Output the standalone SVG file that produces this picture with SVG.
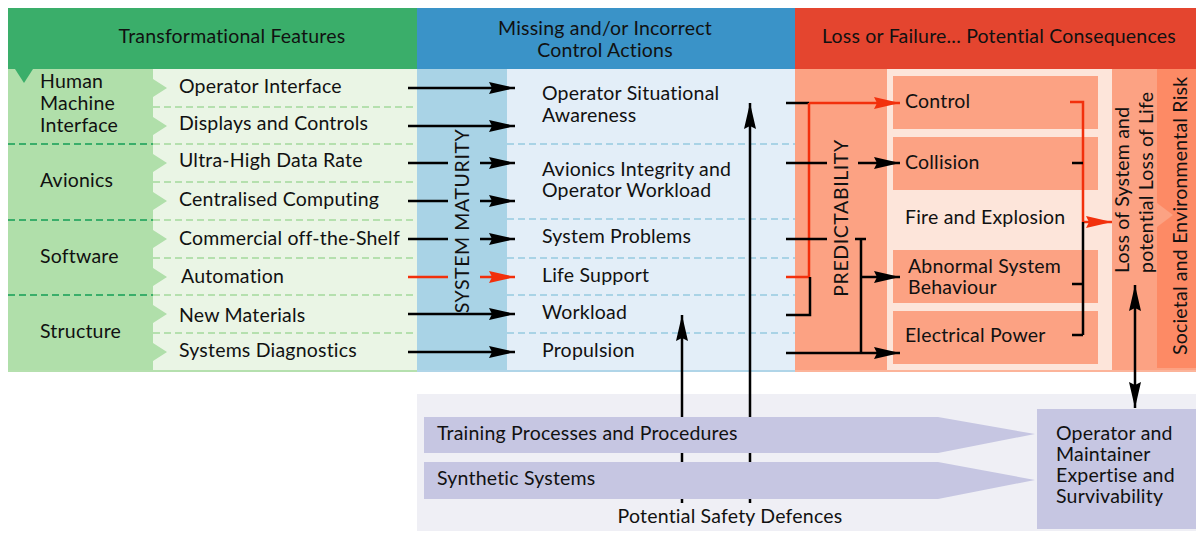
<svg xmlns="http://www.w3.org/2000/svg" width="1196" height="533" viewBox="0 0 1196 533">
<style>
text{font-family:Lato,"Open Sans","Liberation Sans",sans-serif;font-size:19.5px;letter-spacing:0.2px;fill:#111}
.vt{letter-spacing:0.6px}
.dl{stroke:#b5e0ae;stroke-width:2;stroke-dasharray:7 4;fill:none}
.dd{stroke:#3aae6a;stroke-width:2;stroke-dasharray:7 4;fill:none}
.db{stroke:#a9d3e6;stroke-width:2;stroke-dasharray:7 4;fill:none}
.k{stroke:#000;stroke-width:2.5;fill:none}
.r{stroke:#f2300c;stroke-width:2.5;fill:none}
.ka{stroke:#000;stroke-width:2.5;fill:none;marker-end:url(#ah)}
.ra{stroke:#f2300c;stroke-width:2.5;fill:none;marker-end:url(#rh)}
.box{fill:#fca283}
.bar{fill:#c6c6e2}
</style>
<defs>
<marker id="ah" markerUnits="userSpaceOnUse" markerWidth="27" markerHeight="14" refX="26" refY="7" orient="auto"><path d="M0,1 L26,7 L0,13 L3,7 Z" fill="#000"/></marker>
<marker id="rh" markerUnits="userSpaceOnUse" markerWidth="27" markerHeight="14" refX="26" refY="7" orient="auto"><path d="M0,1 L26,7 L0,13 L3,7 Z" fill="#f2300c"/></marker>
<marker id="ad" markerUnits="userSpaceOnUse" markerWidth="27" markerHeight="14" refX="26" refY="7" orient="auto-start-reverse"><path d="M0,1 L26,7 L0,13 L3,7 Z" fill="#000"/></marker>
</defs>

<g id="headers">
<rect x="8" y="8" width="409" height="61" fill="#3aae6a"/>
<rect x="417" y="8" width="378" height="61" fill="#3a93c8"/>
<rect x="795" y="8" width="401" height="61" fill="#e4452f"/>
<text x="232" y="43" text-anchor="middle">Transformational Features</text>
<text x="605" y="35" text-anchor="middle">Missing and/or Incorrect</text>
<text x="605" y="57" text-anchor="middle">Control Actions</text>
<text x="999" y="43" text-anchor="middle">Loss or Failure... Potential Consequences</text>
</g>

<g id="columns">
<rect x="8" y="69" width="145" height="301" fill="#b0dfaa"/>
<rect x="153" y="69" width="264" height="301" fill="#eaf5e5"/>
<rect x="417" y="69" width="90" height="301" fill="#a9d3e6"/>
<rect x="507" y="69" width="288" height="301" fill="#e3eef8"/>
<rect x="795" y="69" width="401" height="301" fill="#fca283"/>
<rect x="887" y="69" width="225" height="301" fill="#fde5da"/>
<rect x="1157" y="69" width="39" height="299" fill="#fd8a65"/>
<path d="M1157,203 L1173,215 L1157,227 Z" fill="#fca283"/>
<rect x="8" y="370" width="409" height="2" fill="#b5e0ae"/>
<rect x="417" y="370" width="378" height="2" fill="#b0d5e8"/>
<rect x="795" y="370" width="401" height="2" fill="#fcb49a"/>
<path d="M15,69 L33,69 L24,83 Z" fill="#3aae6a"/>
<path d="M153,79 L167,88 L153,97 Z M153,117 L167,126 L153,135 Z M153,154 L167,163 L153,172 Z M153,192 L167,201 L153,210 Z M153,230 L167,239 L153,248 Z M153,268 L167,277 L153,286 Z M153,305 L167,314 L153,323 Z M153,343 L167,352 L153,361 Z" fill="#b0dfaa"/>
<path class="dl" d="M153,107 H417 M153,182 H417 M153,258 H417 M153,333 H417 M153,144 H417 M153,220 H417 M153,295 H417"/>
<path class="dd" d="M8,144 H153 M8,220 H153 M8,295 H153"/>
<path class="db" d="M507,144 H795 M507,219 H795 M507,258 H795 M507,295 H795 M507,333 H795"/>
</g>

<g id="categories">
<text x="40" y="88">Human</text>
<text x="40" y="110">Machine</text>
<text x="40" y="132">Interface</text>
<text x="40" y="187">Avionics</text>
<text x="40" y="263">Software</text>
<text x="40" y="338">Structure</text>
</g>

<g id="features">
<text x="179" y="93">Operator Interface</text>
<text x="179" y="130">Displays and Controls</text>
<text x="179" y="167">Ultra-High Data Rate</text>
<text x="179" y="206">Centralised Computing</text>
<text x="179" y="245">Commercial off-the-Shelf</text>
<text x="181" y="283">Automation</text>
<text x="179" y="322">New Materials</text>
<text x="179" y="357">Systems Diagnostics</text>
</g>

<g id="maturity">
<text class="vt" transform="translate(469,221) rotate(-90)" text-anchor="middle">SYSTEM MATURITY</text>
</g>

<g id="control-actions">
<text x="542" y="100">Operator Situational</text>
<text x="542" y="122">Awareness</text>
<text x="542" y="176">Avionics Integrity and</text>
<text x="542" y="197">Operator Workload</text>
<text x="542" y="243">System Problems</text>
<text x="542" y="282">Life Support</text>
<text x="542" y="319">Workload</text>
<text x="542" y="357">Propulsion</text>
</g>

<g id="predictability">
<text class="vt" transform="translate(848,218) rotate(-90)" text-anchor="middle">PREDICTABILITY</text>
</g>

<g id="consequences">
<rect class="box" x="893" y="76" width="205" height="53"/>
<rect class="box" x="893" y="137" width="205" height="53"/>
<rect class="box" x="893" y="250" width="205" height="53"/>
<rect class="box" x="893" y="311" width="205" height="53"/>
<text x="905" y="108">Control</text>
<text x="905" y="169">Collision</text>
<text x="905" y="224">Fire and Explosion</text>
<text x="908" y="273">Abnormal System</text>
<text x="908" y="294">Behaviour</text>
<text x="905" y="342">Electrical Power</text>
</g>

<g id="loss">
<text transform="translate(1129,273) rotate(-90)">Loss of System and</text>
<text transform="translate(1153,273) rotate(-90)">potential Loss of Life</text>
</g>

<g id="societal">
<text transform="translate(1187,355) rotate(-90)">Societal and Environmental Risk</text>
</g>

<g id="defences-panel">
<rect x="417" y="394" width="779" height="137" fill="#efeff5"/>
</g>

<g id="connectors">
<path class="ka" d="M408,88 H515"/>
<path class="ka" d="M408,126 H515"/>
<path class="k" d="M408,163 H448 M408,201 H448 M408,239 H448"/>
<path class="ka" d="M480,163 H515"/>
<path class="ka" d="M480,201 H515"/>
<path class="ka" d="M480,239 H515"/>
<path class="r" d="M408,277 H448"/>
<path class="ra" d="M480,277 H515"/>
<path class="ka" d="M408,314 H515"/>
<path class="ka" d="M408,352 H515"/>
<path class="ka" d="M682,503 V315"/>
<path class="ka" d="M750,503 V103"/>
<path class="k" d="M786,103 H809"/>
<path class="ra" d="M809,103 H900"/>
<path class="r" d="M809,103 V277 H786"/>
<path class="k" d="M786,163 H827 M786,239 H827"/>
<path class="ka" d="M858,163 H900"/>
<path class="k" d="M810,277 V315 H786"/>
<path class="k" d="M855,239 H866 M861,239 V353"/>
<path class="ka" d="M786,353 H900"/>
<path class="ka" d="M861,277 H900"/>
<path class="r" d="M1070,102 H1083 V222"/>
<path class="ra" d="M1083,222 H1112"/>
<path class="k" d="M1072,163 H1083 M1083,222 V335 M1072,284 H1083 M1072,335 H1083"/>
<path stroke="#000" stroke-width="2.5" fill="none" marker-start="url(#ad)" marker-end="url(#ad)" d="M1135,285 V408"/>
</g>

<g id="training">
<path class="bar" d="M424,417 H938 L1035,434 L938,453 H424 Z"/>
<text x="437" y="440">Training Processes and Procedures</text>
</g>
<g id="synthetic">
<path class="bar" d="M424,462 H938 L1035,480 L938,499 H424 Z"/>
<text x="437" y="485">Synthetic Systems</text>
</g>
<g id="operator">
<rect class="bar" x="1037" y="409" width="159" height="120"/>
<text x="1056" y="440">Operator and</text>
<text x="1056" y="461">Maintainer</text>
<text x="1056" y="482">Expertise and</text>
<text x="1056" y="503">Survivability</text>
</g>
<g id="defences-label">
<text x="730" y="523" text-anchor="middle">Potential Safety Defences</text>
</g>
</svg>
